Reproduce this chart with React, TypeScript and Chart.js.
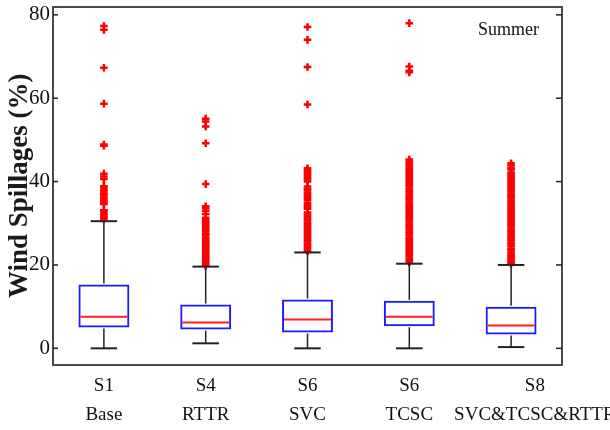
import React, { useEffect, useRef } from "react";
import { Chart, registerables } from "chart.js";

Chart.register(...registerables);

const categories: string[][] = [
  ["S1", "Base"],
  ["S4", "RTTR"],
  ["S6", "SVC"],
  ["S6", "TCSC"],
  ["S8", "SVC&TCSC&RTTR"],
];

const q1 = [5.0, 4.5, 3.8, 5.3, 3.3];
const q3 = [15.3, 10.5, 11.7, 11.4, 10.0];
const medians = [7.6, 6.2, 6.9, 7.6, 5.5];
const whiskerLow = [0, 1.2, 0, 0, 0.3];
const whiskerHigh = [30.5, 19.6, 23.0, 20.3, 20.0];

const yTicks = [0, 20, 40, 60, 80];

const outliersS1 = [
  77.3, 76.4, 67.3, 58.7, 48.9, 48.6, 41.9, 41.2, 40.6, 38.9, 38.5, 38.0, 37.6,
  37.1, 36.7, 36.2, 35.8, 35.3, 34.9, 34.6, 33.1, 32.7, 32.2, 31.8, 31.3, 31.0,
];
const outliersS4 = [
  55.1, 54.4, 53.2, 49.2, 39.4, 34.1, 33.6, 33.0, 32.2, 31.3, 30.8, 30.3, 29.9,
  29.4, 28.9, 28.5, 28.0, 27.5, 27.1, 26.6, 26.1, 25.7, 25.2, 24.7, 24.3, 23.8,
  23.3, 22.9, 22.4, 21.9, 21.5, 21.0, 20.5, 20.1, 19.8,
];
const outliersS6SVC = [
  77.1, 74.0, 67.5, 58.5, 43.2, 42.8, 42.3, 41.9, 41.4, 40.9, 40.5, 40.0, 38.8,
  38.3, 37.9, 37.4, 36.9, 36.5, 36.0, 35.6, 34.9, 34.4, 33.9, 33.5, 32.6, 32.1,
  31.6, 31.2, 30.7, 30.2, 29.8, 29.3, 28.8, 28.4, 27.9, 27.4, 27.0, 26.5, 26.0,
  25.6, 25.1, 24.6, 24.2, 23.7, 23.3,
];
const outliersS6TCSC = [
  78.0, 67.6, 66.6, 66.2, 45.3, 44.8, 44.4, 43.9, 43.4, 43.0, 42.5, 42.0, 41.6,
  41.1, 40.6, 40.2, 39.7, 39.2, 38.8, 38.3, 37.8, 37.4, 36.9, 36.4, 36.0, 35.5,
  35.0, 34.6, 34.1, 33.6, 33.2, 32.7, 32.2, 31.8, 31.3, 30.8, 30.4, 29.9, 29.4,
  29.0, 28.5, 28.0, 27.6, 27.1, 26.6, 26.2, 25.7, 25.2, 24.8, 24.3, 23.8, 23.4,
  22.9, 22.4, 22.0, 21.5, 21.0, 20.6,
];
const outliersS8 = [
  44.4, 43.9, 43.3, 42.9, 42.2, 41.8, 41.4, 40.8, 40.4, 39.9, 39.4, 39.0, 38.5,
  38.0, 37.6, 37.1, 36.6, 36.2, 35.7, 35.2, 34.8, 34.3, 33.8, 33.4, 32.9, 32.4,
  32.0, 31.5, 31.0, 30.6, 30.1, 29.6, 29.2, 28.7, 28.2, 27.8, 27.3, 26.8, 26.4,
  25.9, 25.4, 25.0, 24.5, 23.9, 23.5, 23.0, 22.5, 22.1, 21.6, 21.1, 20.7, 20.3,
];
const outlierGroups = [outliersS1, outliersS4, outliersS6SVC, outliersS6TCSC, outliersS8];

const seasonLabel = "Summer";
const yTitle = "Wind Spillages (%)";

const FRAME = "#4a4a4a";
const SERIF = "'Liberation Serif', 'DejaVu Serif', serif";

export default function App() {
  const ref = useRef<HTMLCanvasElement>(null);

  useEffect(() => {
    const canvas = ref.current;
    if (!canvas) return;

    // x uses the very same label object so the category scale finds it
    const outlierPoints = outlierGroups.flatMap((arr, i) =>
      arr.map((v) => ({ x: categories[i], y: v }))
    );

    const boxParts = {
      id: "boxParts",
      afterDatasetsDraw(chart: any) {
        const { ctx, chartArea } = chart;
        const xs = chart.scales.x;
        const ys = chart.scales.y;
        const catW = xs.getPixelForValue(1) - xs.getPixelForValue(0);
        const halfBox = catW * 0.25;
        const halfCap = catW * 0.13;
        const seg = (x1: number, y1: number, x2: number, y2: number) => {
          ctx.beginPath();
          ctx.moveTo(x1, y1);
          ctx.lineTo(x2, y2);
          ctx.stroke();
        };
        ctx.save();
        categories.forEach((_, i) => {
          const cx = xs.getPixelForValue(i);
          const pq1 = ys.getPixelForValue(q1[i]);
          const pq3 = ys.getPixelForValue(q3[i]);
          const pLo = ys.getPixelForValue(whiskerLow[i]);
          const pHi = ys.getPixelForValue(whiskerHigh[i]);
          const pMed = ys.getPixelForValue(medians[i]);
          ctx.strokeStyle = "#222";
          ctx.lineWidth = 1.5;
          seg(cx, pq3 - 1, cx, pHi);
          seg(cx, pq1 + 1, cx, pLo);
          ctx.lineWidth = 2;
          seg(cx - halfCap, pHi, cx + halfCap, pHi);
          seg(cx - halfCap, pLo, cx + halfCap, pLo);
          ctx.strokeStyle = "#ff2020";
          ctx.lineWidth = 2;
          seg(cx - halfBox + 2, pMed, cx + halfBox - 2, pMed);
        });
        ctx.strokeStyle = "#222";
        ctx.lineWidth = 1.5;
        yTicks.forEach((v) => {
          const py = ys.getPixelForValue(v);
          seg(chartArea.left, py, chartArea.left + 5, py);
          seg(chartArea.right - 6, py, chartArea.right, py);
        });
        ctx.fillStyle = "#111";
        ctx.font = `18px ${SERIF}`;
        ctx.textAlign = "right";
        ctx.textBaseline = "middle";
        ctx.fillText(seasonLabel, chartArea.right - 23, chartArea.top + 24);
        ctx.restore();
      },
    };

    const chart = new Chart(canvas, {
      type: "bar",
      data: {
        labels: categories,
        datasets: [
          {
            type: "bar",
            data: q1.map((v, i) => [v, q3[i]]),
            backgroundColor: "rgba(255,255,255,0)",
            borderColor: "#1a1aff",
            borderWidth: 2,
            borderSkipped: false,
            barPercentage: 0.5,
            categoryPercentage: 1,
            xAxisID: "x",
            yAxisID: "y",
          } as any,
          {
            type: "line",
            data: outlierPoints as any,
            showLine: false,
            pointStyle: "cross",
            pointRadius: 3.8,
            pointBorderWidth: 2.5,
            pointBorderColor: "#ff0000",
            pointBackgroundColor: "#ff0000",
            xAxisID: "x",
            yAxisID: "y",
          } as any,
        ],
      },
      options: {
        animation: false,
        responsive: false,
        devicePixelRatio: 1,
        layout: { padding: 0 },
        plugins: {
          legend: { display: false },
          tooltip: { enabled: false },
        },
        scales: {
          x: {
            type: "category",
            position: "bottom",
            offset: true,
            grid: { display: false, drawTicks: false },
            border: { display: true, color: FRAME, width: 2 },
            ticks: {
              color: "#111",
              font: { family: SERIF, size: 19, lineHeight: 1.5 },
              padding: 7,
              maxRotation: 0,
              minRotation: 0,
              autoSkip: false,
              callback: (_v: any, i: number) =>
                i === categories.length - 1
                  ? categories[i].map((s) => "\u2002\u2002\u2002\u2002\u2002" + s)
                  : categories[i],
            },
            afterFit: (s: any) => {
              s.height = 65;
              s.paddingLeft = 0;
              s.paddingRight = 0;
            },
          },
          x2: {
            type: "category",
            position: "top",
            offset: true,
            grid: { display: false, drawTicks: false },
            border: { display: true, color: FRAME, width: 2 },
            ticks: { display: false },
            afterFit: (s: any) => {
              s.height = 5;
              s.paddingLeft = 0;
              s.paddingRight = 0;
            },
          },
          y: {
            type: "linear",
            position: "left",
            min: -4,
            max: 82,
            grid: { display: false, drawTicks: false },
            border: { display: true, color: FRAME, width: 2 },
            afterBuildTicks: (s: any) => {
              s.ticks = yTicks.map((v) => ({ value: v }));
            },
            ticks: {
              color: "#111",
              font: { family: SERIF, size: 21 },
              padding: 3,
            },
            title: {
              display: true,
              text: yTitle,
              color: "#1a1a1a",
              font: { family: SERIF, size: 27, weight: "bold" },
              padding: { top: 4, bottom: 0 },
            },
            afterFit: (s: any) => {
              s.width = 53;
              s.paddingTop = 0;
              s.paddingBottom = 0;
            },
          },
          y2: {
            type: "linear",
            position: "right",
            min: -4,
            max: 82,
            grid: { display: false, drawTicks: false },
            border: { display: true, color: FRAME, width: 2 },
            ticks: { display: false },
            afterFit: (s: any) => {
              s.width = 48;
              s.paddingTop = 0;
              s.paddingBottom = 0;
            },
          },
        },
      } as any,
      plugins: [boxParts],
    });

    return () => chart.destroy();
  }, []);

  return (
    <div style={{ position: "fixed", left: 0, top: 0, width: 610, height: 430, background: "#fff" }}>
      <canvas ref={ref} width={610} height={430} style={{ display: "block" }} />
    </div>
  );
}
